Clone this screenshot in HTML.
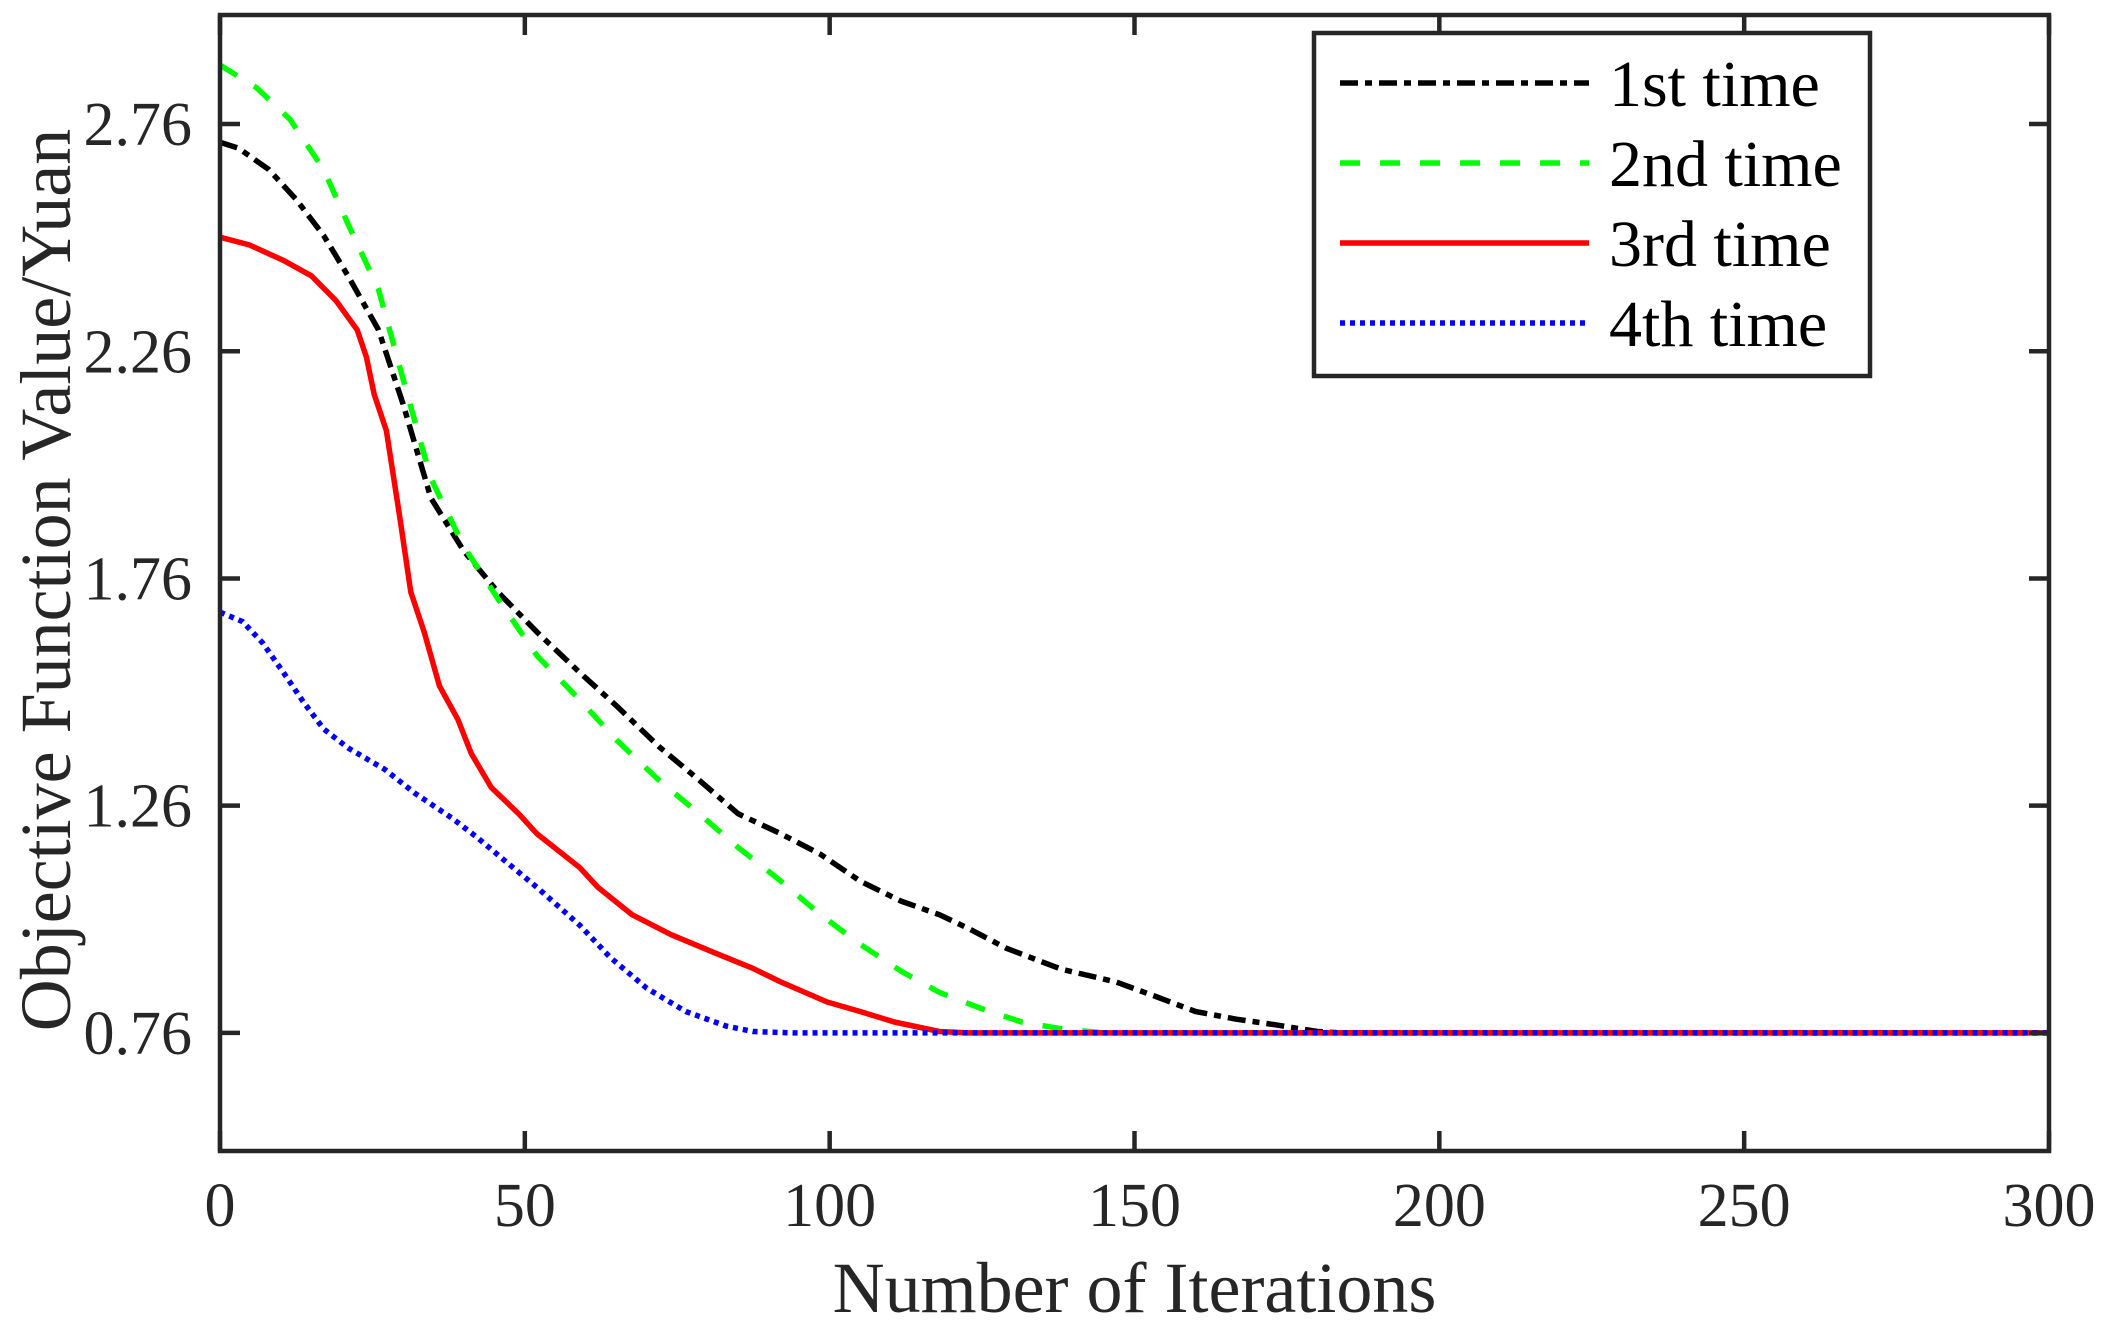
<!DOCTYPE html>
<html><head><meta charset="utf-8"><style>
html,body{margin:0;padding:0;background:#fff;}
svg{display:block;font-family:"Liberation Serif","Times New Roman",serif;}
</style></head><body>
<svg id="chart" width="2107" height="1326" viewBox="0 0 2107 1326" xmlns="http://www.w3.org/2000/svg">
<g id="plot"></g>
</svg>
<script>
const xTicks = [0, 50, 100, 150, 200, 250, 300];
const yTicks = [0.76, 1.26, 1.76, 2.26, 2.76];
const yTickLabels = ["0.76", "1.26", "1.76", "2.26", "2.76"];
const seriesNames = ["1st time", "2nd time", "3rd time", "4th time"];
const s1x = [0,3,8,12.5,17,21,26,30,34.6,40,45.6,52,59,65,72,78.6,85,92,98.5,105,111.7,118,122.7,129,138,147,153.5,160,166.7,173,180,184,300];
const s1y = [2.72,2.707,2.66,2.594,2.515,2.426,2.307,2.145,1.937,1.82,1.73,1.642,1.553,1.48,1.39,1.316,1.242,1.198,1.153,1.094,1.05,1.02,0.99,0.946,0.90,0.872,0.84,0.807,0.79,0.778,0.763,0.76,0.76];
const s2x = [0,6,11.5,17,21,26,30,34.6,40,45.6,52,59,65,72,78.6,85,92,98.5,105,111.7,118,125,131.5,138,145,300];
const s2y = [2.89,2.84,2.77,2.66,2.54,2.396,2.20,1.98,1.83,1.715,1.59,1.493,1.405,1.316,1.242,1.168,1.094,1.02,0.955,0.896,0.849,0.813,0.784,0.769,0.76,0.76];
const s3x = [0,4.8,10.4,15,19,22.5,24,25.3,27.3,29.5,31.3,33.5,36,39,41.2,44.5,49,52,59,62,67.6,74,81,87.4,92,99.6,105,110.6,118,122.7,300];
const s3y = [2.511,2.494,2.46,2.426,2.372,2.307,2.248,2.165,2.085,1.893,1.73,1.642,1.523,1.45,1.375,1.30,1.242,1.198,1.124,1.08,1.02,0.976,0.937,0.902,0.872,0.828,0.807,0.784,0.763,0.76,0.76];
const s4x = [0,3.7,7,10.4,13.7,17,21,27,32,38,42,46.7,52,59,64,70,76.4,83,87.4,94,300];
const s4y = [1.686,1.665,1.618,1.553,1.488,1.429,1.387,1.34,1.287,1.233,1.192,1.139,1.08,0.997,0.926,0.858,0.807,0.775,0.763,0.76,0.76];

const L=220,R=2049,T=15,B=1151, X0=0,X1=300,Y0=0.5,Y1=3.0;
function sx(v){return L+(v-X0)/(X1-X0)*(R-L);}
function sy(v){return B-(v-Y0)/(Y1-Y0)*(B-T);}
const NS="http://www.w3.org/2000/svg";
const g=document.getElementById('plot');
function mk(tag,attrs,parent){const e=document.createElementNS(NS,tag);for(const k in attrs)e.setAttribute(k,attrs[k]);(parent||g).appendChild(e);return e;}

const styles=[
 {c:"#000000",d:"18 7 7 7"},
 {c:"#00ff00",d:"20 20"},
 {c:"#ff0000",d:""},
 {c:"#0000ff",d:"5 5"}
];
const xs=[s1x,s2x,s3x,s4x], ys=[s1y,s2y,s3y,s4y];
const lineNames=['series-1st-time','series-2nd-time','series-3rd-time','series-4th-time'];
const lg=mk('g',{});


for(let i=0;i<4;i++){
  const pts=xs[i].map((x,j)=>sx(x).toFixed(1)+','+sy(ys[i][j]).toFixed(1)).join(' ');
  const p=mk('polyline',{points:pts,fill:'none',stroke:styles[i].c,'stroke-width':5.5,'stroke-dasharray':styles[i].d,'stroke-linejoin':'round'},lg);
  
  
}

const box=mk('rect',{x:L,y:T,width:R-L,height:B-T,fill:'none',stroke:'#262626','stroke-width':4.5});



xTicks.forEach(v=>{
  const x=sx(v);
  const t1=mk('line',{x1:x,x2:x,y1:B,y2:B-20,stroke:'#262626','stroke-width':4.5});
  
  
  const t2=mk('line',{x1:x,x2:x,y1:T,y2:T+20,stroke:'#262626','stroke-width':4.5});
  
  
  const tx=mk('text',{x:x,y:1226,'text-anchor':'middle','font-size':62,fill:'#262626'});
  tx.textContent=String(v);
  
  
});
yTicks.forEach((v,i)=>{
  const y=sy(v);
  const t1=mk('line',{x1:L,x2:L+20,y1:y,y2:y,stroke:'#262626','stroke-width':4.5});
  
  
  const t2=mk('line',{x1:R,x2:R-20,y1:y,y2:y,stroke:'#262626','stroke-width':4.5});
  
  
  const tx=mk('text',{x:192,y:y+21,'text-anchor':'end','font-size':62,fill:'#262626'});
  tx.textContent=yTickLabels[i];
  
  
});

const xt=mk('text',{x:(L+R)/2,y:1312,'text-anchor':'middle','font-size':72,fill:'#262626'});
xt.textContent='Number of Iterations';


const yt=mk('text',{x:0,y:0,'text-anchor':'middle','font-size':72,fill:'#262626',transform:'translate(70,580) rotate(-90)'});
yt.textContent='Objective Function Value/Yuan';



const leg=mk('g',{});


const lr=mk('rect',{x:1314,y:33,width:556,height:343,fill:'#fff',stroke:'#262626','stroke-width':4.5},leg);


const rowY=[83,163,243,323];
for(let i=0;i<4;i++){
  const e=mk('g',{},leg);
  
  
  const ln=mk('line',{x1:1340,x2:1589,y1:rowY[i],y2:rowY[i],stroke:styles[i].c,'stroke-width':5.5,'stroke-dasharray':styles[i].d},e);
  
  
  const tx=mk('text',{x:1609,y:rowY[i]+23,'font-size':66,fill:'#000'},e);
  tx.textContent=seriesNames[i];
  
  
}
</script>
</body></html>
